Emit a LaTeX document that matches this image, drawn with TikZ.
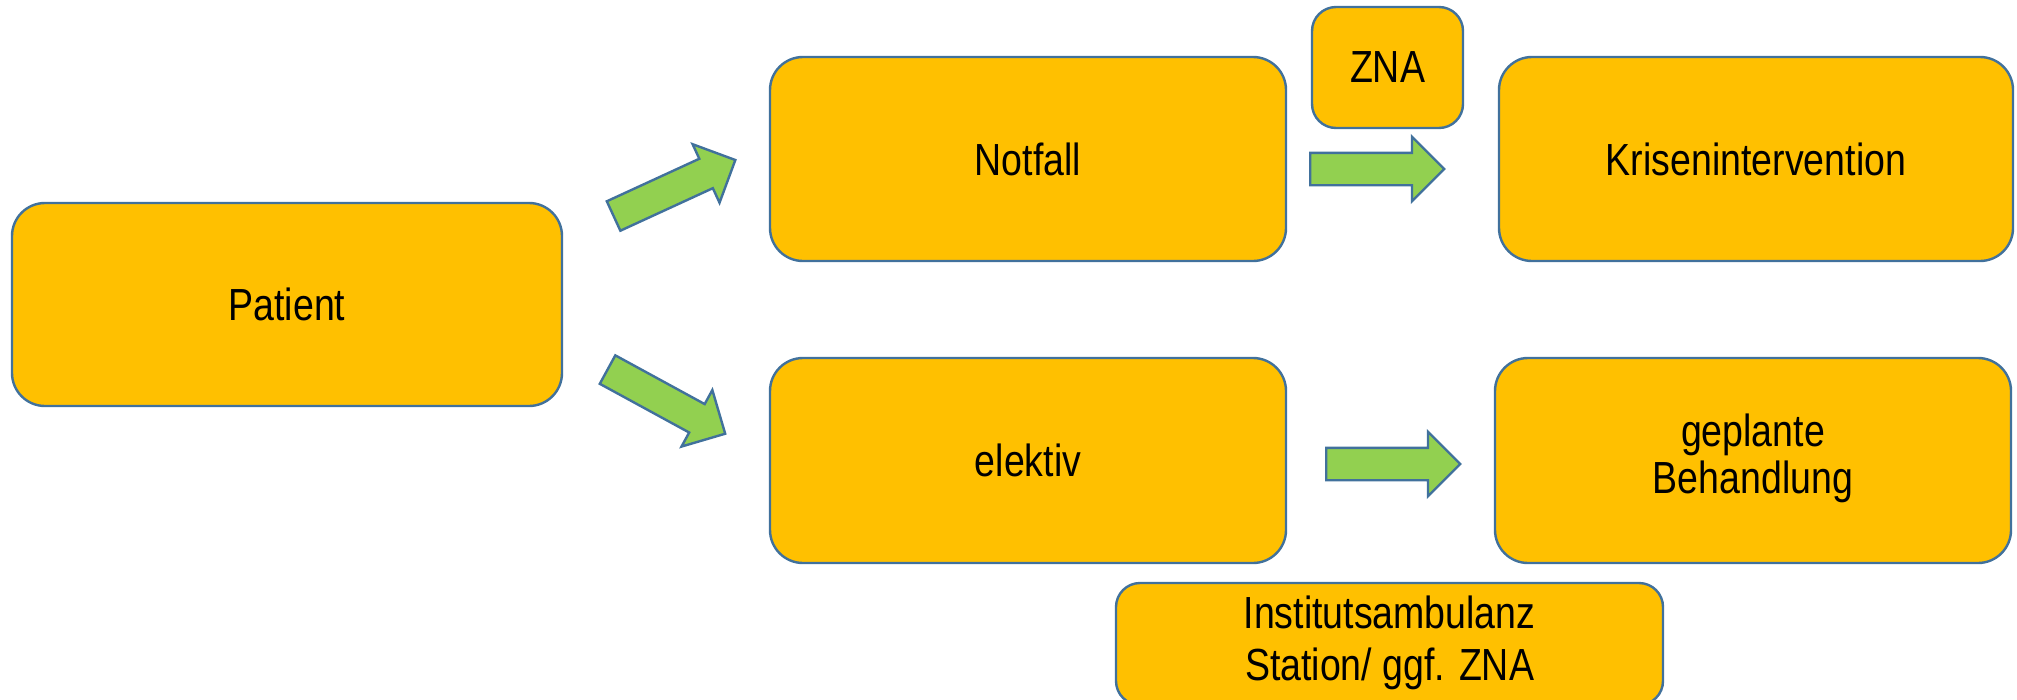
\documentclass[tikz,border=0pt]{standalone}
\usepackage{fontspec}
\setmainfont{Liberation Sans}
\usetikzlibrary{shapes.arrows}
\definecolor{boxfill}{HTML}{FFC000}
\definecolor{bordercol}{HTML}{41719C}
\definecolor{arrowgreen}{HTML}{92D050}
\newcommand\stretchtxt[1]{\scalebox{1}[1.2]{#1}}
\tikzset{
  box/.style={draw=bordercol, fill=boxfill, line width=2.4pt, rounded corners=33pt,
    inner sep=0pt, text=black, align=center, font=\fontsize{37.5}{39.2}\selectfont},
  smallbox/.style={box, rounded corners=24pt},
  bigarrow/.style={single arrow, draw=bordercol, fill=arrowgreen, line width=2.4pt,
    minimum height=134pt, minimum width=62pt, single arrow head extend=16pt,
    inner xsep=0pt, inner ysep=15pt, font=\fontsize{1}{1}\selectfont, anchor=tail}
}
\begin{document}
\begin{tikzpicture}[x=1pt,y=-1pt]
\useasboundingbox (0,0) rectangle (2017,699);
\node[box, minimum width=550pt, minimum height=203pt] (patient) at (287,304.5) {\stretchtxt{Patient}};
\node[box, minimum width=516pt, minimum height=204pt] (notfall) at (1028,159) {\stretchtxt{Notfall}};
\node[box, minimum width=514pt, minimum height=204pt] (krise) at (1756,159) {\stretchtxt{Krisenintervention}};
\node[box, minimum width=516pt, minimum height=205pt] (elektiv) at (1028,460.5) {\stretchtxt{elektiv}};
\node[box, minimum width=516pt, minimum height=205pt] (geplant) at (1753,460.5) {\stretchtxt{\begin{tabular}{@{}c@{}}geplante\\Behandlung\end{tabular}}};
\node[smallbox, minimum width=151pt, minimum height=121pt] (zna) at (1387.5,67.5) {\stretchtxt{ZNA}};
\node[smallbox, minimum width=547pt, minimum height=122pt, font=\fontsize{37.5}{43.3}\selectfont] (inst) at (1389.5,644) {\stretchtxt{\begin{tabular}{@{}c@{}}Institutsambulanz\\Station/ ggf. ZNA\end{tabular}}};
\node[bigarrow, rotate=24.7] (a1) at (612.5,216.5) {};
\node[bigarrow, rotate=-28.6] (a2) at (606.5,369) {};
\node[bigarrow] (a3) at (1309,169) {};
\node[bigarrow] (a4) at (1325,464) {};
\end{tikzpicture}
\end{document}
